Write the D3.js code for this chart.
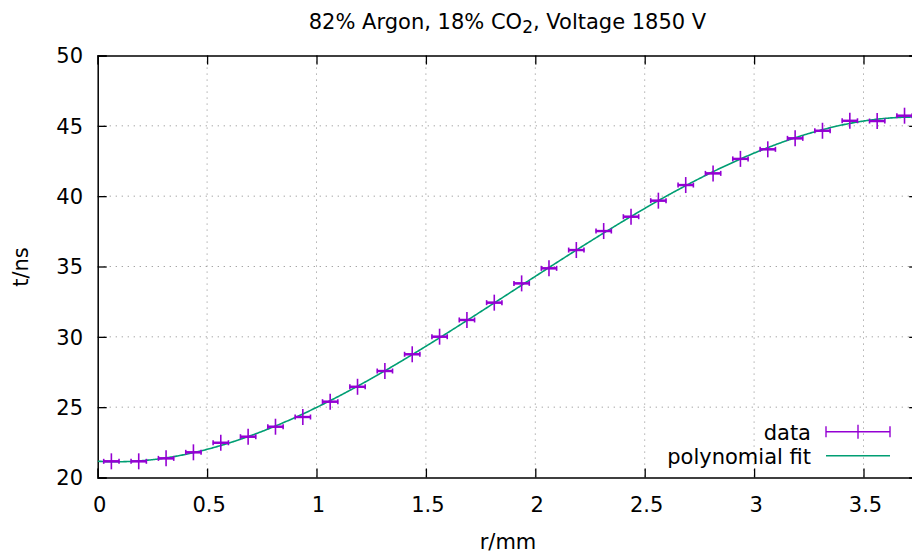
<!DOCTYPE html>
<html>
<head>
<meta charset="utf-8">
<script src="https://cdn.jsdelivr.net/npm/d3@7"></script>
<style>
  html, body { margin: 0; padding: 0; background: #fff; }
  svg { display: block; font-family: "DejaVu Sans", sans-serif; }
</style>
</head>
<body>
<svg id="chart" width="912" height="553"></svg>
<script>
// Drift time t versus radial distance r for the 82% Ar / 18% CO2 mixture
const rValues = [0.0625, 0.1875, 0.3125, 0.4375, 0.5625, 0.6875, 0.8125, 0.9375,
                 1.0625, 1.1875, 1.3125, 1.4375, 1.5625, 1.6875, 1.8125, 1.9375,
                 2.0625, 2.1875, 2.3125, 2.4375, 2.5625, 2.6875, 2.8125, 2.9375,
                 3.0625, 3.1875, 3.3125, 3.4375, 3.5625, 3.6875];
const tValues = [21.15, 21.15, 21.36, 21.79, 22.47, 22.90, 23.61, 24.30,
                 25.39, 26.45, 27.57, 28.76, 30.01, 31.20, 32.43, 33.80,
                 34.87, 36.17, 37.52, 38.54, 39.68, 40.79, 41.62, 42.65,
                 43.33, 44.11, 44.65, 45.36, 45.34, 45.72];
const rError = 0.035;            // horizontal error bar half-width (mm)
const xTicks = [0, 0.5, 1, 1.5, 2, 2.5, 3, 3.5];
const yTicks = [20, 25, 30, 35, 40, 45, 50];
const fitDegree = 3;
const legendLabels = ["data", "polynomial fit"];

const dataColor = "#9400d3";
const fitColor = "#009e73";
const fontSize = 21;

const svg = d3.select("#chart");
const plotLeft = 97.7, plotRight = 918.2, plotTop = 55.5, plotBottom = 477.5;

const x = d3.scaleLinear().domain([0, 3.75]).range([plotLeft, plotRight]);
const y = d3.scaleLinear().domain([20, 50]).range([plotBottom, plotTop]);

// Least-squares polynomial fit of the measured points
function polyFit(xs, ys, deg) {
  const n = deg + 1;
  const A = Array.from({length: n}, () => new Array(n + 1).fill(0));
  xs.forEach((xv, k) => {
    for (let i = 0; i < n; i++) {
      for (let j = 0; j < n; j++) A[i][j] += Math.pow(xv, i + j);
      A[i][n] += ys[k] * Math.pow(xv, i);
    }
  });
  for (let c = 0; c < n; c++) {
    let p = c;
    for (let r = c + 1; r < n; r++) if (Math.abs(A[r][c]) > Math.abs(A[p][c])) p = r;
    [A[c], A[p]] = [A[p], A[c]];
    for (let r = 0; r < n; r++) {
      if (r === c) continue;
      const f = A[r][c] / A[c][c];
      for (let k = c; k <= n; k++) A[r][k] -= f * A[c][k];
    }
  }
  return A.map((row, i) => row[n] / row[i]);
}
const coef = polyFit(rValues, tValues, fitDegree);
const fitAt = r => coef.reduce((s, c, i) => s + c * Math.pow(r, i), 0);

svg.append("clipPath").attr("id", "plotclip")
  .append("rect").attr("x", plotLeft).attr("y", plotTop)
  .attr("width", plotRight - plotLeft).attr("height", plotBottom - plotTop);

// grid
const grid = svg.append("g").attr("stroke", "#9a9a9a").attr("stroke-width", 1)
  .attr("stroke-dasharray", "1.2,4.8");
grid.selectAll("line.gx").data(xTicks.filter(v => v > 0)).join("line").attr("class", "gx")
  .attr("x1", d => x(d)).attr("x2", d => x(d)).attr("y1", plotTop).attr("y2", plotBottom);
grid.selectAll("line.gy").data(yTicks.filter(v => v > 20 && v < 50)).join("line").attr("class", "gy")
  .attr("y1", d => y(d)).attr("y2", d => y(d)).attr("x1", plotLeft).attr("x2", plotRight);

// axes with inward ticks on all four sides
const tickLen = 9;
const axB = d3.axisBottom(x).tickValues(xTicks).tickSize(-tickLen).tickFormat("");
const axT = d3.axisTop(x).tickValues(xTicks).tickSize(-tickLen).tickFormat("");
const axL = d3.axisLeft(y).tickValues(yTicks).tickSize(-tickLen).tickFormat("");
const axR = d3.axisRight(y).tickValues(yTicks).tickSize(-tickLen).tickFormat("");
[[axB, `translate(0,${plotBottom})`], [axT, `translate(0,${plotTop})`],
 [axL, `translate(${plotLeft},0)`], [axR, `translate(${plotRight},0)`]].forEach(([ax, tr]) => {
  const g = svg.append("g").attr("transform", tr).call(ax);
  g.select(".domain").attr("stroke", "#000").attr("stroke-width", 1.5);
  g.selectAll(".tick line").attr("stroke", "#000").attr("stroke-width", 1.3);
});

// tick labels
svg.append("g").selectAll("text").data(xTicks).join("text")
  .attr("x", d => x(d) + 2).attr("y", 511.5)
  .attr("text-anchor", "middle").attr("font-size", fontSize).attr("fill", "#000")
  .text(d => d3.format("")(d));
svg.append("g").selectAll("text").data(yTicks).join("text")
  .attr("x", 83).attr("y", d => y(d) + 7.8)
  .attr("text-anchor", "end").attr("font-size", fontSize).attr("fill", "#000")
  .text(d => d);

// fitted polynomial
const fitPts = d3.range(0, 3.7501, 0.005).map(r => [r, fitAt(r)]);
svg.append("path").datum(fitPts)
  .attr("clip-path", "url(#plotclip)")
  .attr("fill", "none").attr("stroke", fitColor).attr("stroke-width", 1.6)
  .attr("d", d3.line().x(d => x(d[0])).y(d => y(d[1])));

// data points: "+" marker with horizontal error bars
const pts = rValues.map((r, i) => ({r, t: tValues[i]}));
const pg = svg.append("g").attr("stroke", dataColor).attr("stroke-width", 1.6)
  .attr("fill", "none");
const arm = 8, cap = 2.5;
pts.forEach(p => {
  const cx = x(p.r), cy = y(p.t);
  const x0 = x(p.r - rError), x1 = x(p.r + rError);
  pg.append("line").attr("x1", x0).attr("x2", x1).attr("y1", cy).attr("y2", cy)
    .attr("stroke-width", 2.4);
  pg.append("line").attr("x1", x0).attr("x2", x0).attr("y1", cy - cap).attr("y2", cy + cap);
  pg.append("line").attr("x1", x1).attr("x2", x1).attr("y1", cy - cap).attr("y2", cy + cap);
  pg.append("line").attr("x1", cx - arm).attr("x2", cx + arm).attr("y1", cy).attr("y2", cy);
  pg.append("line").attr("x1", cx).attr("x2", cx).attr("y1", cy - arm).attr("y2", cy + arm);
});

// legend
const lg = svg.append("g");
lg.selectAll("text").data(legendLabels).join("text")
  .attr("x", 811).attr("y", (d, i) => 439.5 + i * 24)
  .attr("text-anchor", "end").attr("font-size", fontSize).attr("fill", "#000")
  .text(d => d);
const ly0 = 431.7, sx0 = 826, sx1 = 890;
lg.append("line").attr("x1", sx0).attr("x2", sx1).attr("y1", ly0).attr("y2", ly0)
  .attr("stroke", dataColor).attr("stroke-width", 1.4);
[sx0, sx1].forEach(sx => lg.append("line").attr("x1", sx).attr("x2", sx)
  .attr("y1", ly0 - 5.5).attr("y2", ly0 + 5.5).attr("stroke", dataColor).attr("stroke-width", 1.4));
lg.append("line").attr("x1", (sx0 + sx1) / 2).attr("x2", (sx0 + sx1) / 2)
  .attr("y1", ly0 - 7).attr("y2", ly0 + 7).attr("stroke", dataColor).attr("stroke-width", 1.4);
lg.append("line").attr("x1", sx0).attr("x2", sx1).attr("y1", ly0 + 24).attr("y2", ly0 + 24)
  .attr("stroke", fitColor).attr("stroke-width", 1.4);

// title with subscript
const title = svg.append("text").attr("x", 507.5).attr("y", 28.5)
  .attr("text-anchor", "middle").attr("font-size", fontSize).attr("fill", "#000");
title.append("tspan").text("82% Argon, 18% CO");
title.append("tspan").attr("font-size", 17).attr("dy", 4).text("2");
title.append("tspan").attr("dy", -4).text(", Voltage 1850 V");

// axis titles
svg.append("text").attr("x", 508).attr("y", 549)
  .attr("text-anchor", "middle").attr("font-size", fontSize).attr("fill", "#000")
  .text("r/mm");
svg.append("text").attr("transform", "translate(28,267) rotate(-90)")
  .attr("text-anchor", "middle").attr("font-size", fontSize).attr("fill", "#000")
  .text("t/ns");
</script>
</body>
</html>
